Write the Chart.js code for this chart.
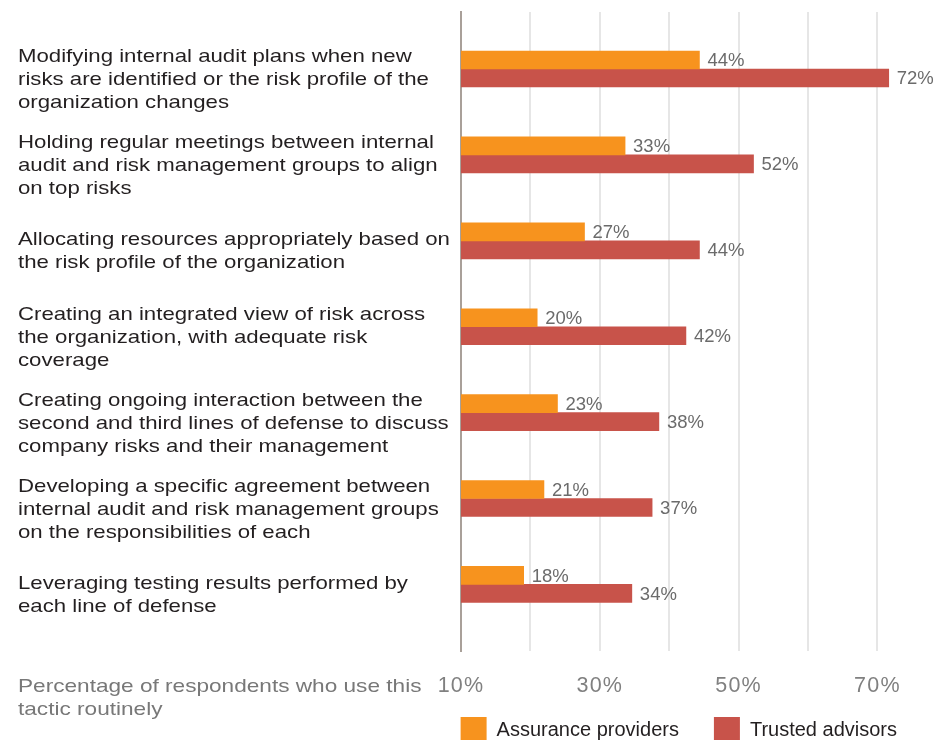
<!DOCTYPE html>
<html>
<head>
<meta charset="utf-8">
<script src="https://cdn.jsdelivr.net/npm/chart.js@4.4.1/dist/chart.umd.min.js"></script>
<style>
  html, body { margin: 0; padding: 0; background: #ffffff; overflow: hidden; }
  #wrap { position: relative; width: 943px; height: 740px; overflow: hidden; }
  #axisNote {
    position: absolute; left: 18px; top: 674px; width: 345px;
    font-family: "Liberation Sans", Arial, sans-serif; font-size: 19px; line-height: 23px;
    color: #787878; transform: scaleX(1.19); transform-origin: left top;
  }
</style>
</head>
<body>
<div id="wrap">
  <canvas id="c" width="943" height="753"></canvas>
  <div id="axisNote">Percentage of respondents who use this tactic routinely</div>
</div>
<script>
// ---- data ----
const categories = [
  ["Modifying internal audit plans when new", "risks are identified or the risk profile of the", "organization changes"],
  ["Holding regular meetings between internal", "audit and risk management groups to align", "on top risks"],
  ["Allocating resources appropriately based on", "the risk profile of the organization"],
  ["Creating an integrated view of risk across", "the organization, with adequate risk", "coverage"],
  ["Creating ongoing interaction between the", "second and third lines of defense to discuss", "company risks and their management"],
  ["Developing a specific agreement between", "internal audit and risk management groups", "on the responsibilities of each"],
  ["Leveraging testing results performed by", "each line of defense"]
];
const seriesNames = ["Assurance providers", "Trusted advisors"];
const assuranceProviders = [44, 33, 27, 20, 23, 21, 18];
const trustedAdvisors = [72, 52, 44, 42, 38, 37, 34];
const tickLabels = ["10%", "30%", "50%", "70%"];

// ---- styling ----
const FONT = '"Liberation Sans", Arial, sans-serif';
const ORANGE = '#F7931E';
const RED = '#C8534A';
const GRID = '#E6E6E6';
const AXIS = '#A9A099';

const yMin = -0.6636, yMax = 6.775;   // category index range of the bar axis
const labelShift = 0.128;             // label axis offset (in category units)

// label text styling for a scale (letter spacing / horizontal stretch), no label clipping
function styleScale(scale, spacing, stretch) {
  scale._computeLabelArea = () => undefined;
  if (!scale._styleWrapped) {
    const orig = scale.drawLabels;
    scale.drawLabels = function (area) {
      const c = this.ctx;
      c.save();
      c.letterSpacing = spacing;
      if (stretch !== 1) {
        c.translate(this.left, 0);
        c.scale(stretch, 1);
        c.translate(-this.left, 0);
      }
      orig.call(this, area);
      c.restore();
      c.letterSpacing = '0px';
    };
    scale._styleWrapped = true;
  }
}

const valueLabels = {
  id: 'valueLabels',
  afterDatasetsDraw(chart) {
    const series = [assuranceProviders, trustedAdvisors];
    const ctx = chart.ctx;
    ctx.save();
    ctx.font = '18.5px ' + FONT;
    ctx.fillStyle = '#6B6B6B';
    ctx.textAlign = 'left';
    ctx.textBaseline = 'middle';
    chart.data.datasets.forEach((ds, di) => {
      const meta = chart.getDatasetMeta(di);
      meta.data.forEach((bar, i) => {
        ctx.fillText(series[di][i] + '%', bar.x + 8, bar.y + 1);
      });
    });
    ctx.restore();
  }
};

new Chart(document.getElementById('c'), {
  type: 'bar',
  data: {
    datasets: [
      {
        label: seriesNames[0],
        data: assuranceProviders.map((v, i) => ({ x: v, y: i })),
        backgroundColor: ORANGE, borderColor: ORANGE, borderWidth: 0,
        xAxisID: 'x', yAxisID: 'y'
      },
      {
        label: seriesNames[1],
        data: trustedAdvisors.map((v, i) => ({ x: v, y: i })),
        backgroundColor: RED, borderColor: RED, borderWidth: 0,
        xAxisID: 'x', yAxisID: 'y'
      }
    ]
  },
  options: {
    indexAxis: 'y',
    responsive: false,
    animation: false,
    devicePixelRatio: 1,
    barThickness: 18,
    layout: { padding: { left: 18, right: 11, top: 12, bottom: 0 } },
    scales: {
      x: { type: 'linear', display: false, offset: false, min: 8.73, max: 78.4 },
      xg: {
        type: 'linear', position: 'bottom', offset: false, min: 10, max: 77.87,
        grid: {
          color: (c) => (c.tick && c.tick.value === 10 ? AXIS : GRID),
          lineWidth: 2, drawTicks: false, offset: false
        },
        border: { display: false },
        ticks: {
          stepSize: 10, includeBounds: false, autoSkip: false, maxRotation: 0,
          padding: 22, color: '#808080',
          font: { family: FONT, size: 21.5 },
          callback: (v) => { const s = v + '%'; return tickLabels.includes(s) ? s : ''; }
        },
        afterFit: (s) => {
          s.height = 31; s.paddingLeft = 0; s.paddingRight = 0;
          styleScale(s, '1.2px', 1);
        }
      },
      y: {
        type: 'linear', display: false, reverse: true, offset: false,
        grid: { offset: false }, min: yMin, max: yMax
      },
      yl: {
        type: 'linear', position: 'left', reverse: true, offset: false,
        min: yMin - labelShift, max: yMax - labelShift,
        grid: { display: false, offset: false },
        border: { display: true, color: AXIS, width: 2 },
        afterBuildTicks: (s) => { s.ticks = categories.map((_, i) => ({ value: i })); },
        ticks: {
          autoSkip: false, crossAlign: 'far', color: '#231F20',
          font: { family: FONT, size: 18.5, lineHeight: '23px' },
          callback: (v) => categories[v]
        },
        afterFit: (s) => {
          s.width = 443; s.paddingTop = 0; s.paddingBottom = 0;
          styleScale(s, '0px', 1.2);
        }
      }
    },
    plugins: {
      legend: {
        position: 'bottom', align: 'end',
        labels: {
          boxWidth: 26, boxHeight: 26, padding: 35, color: '#231F20',
          font: { family: FONT, size: 20 }
        }
      },
      tooltip: { enabled: false },
      title: { display: false }
    }
  },
  plugins: [valueLabels]
});
</script>
</body>
</html>
